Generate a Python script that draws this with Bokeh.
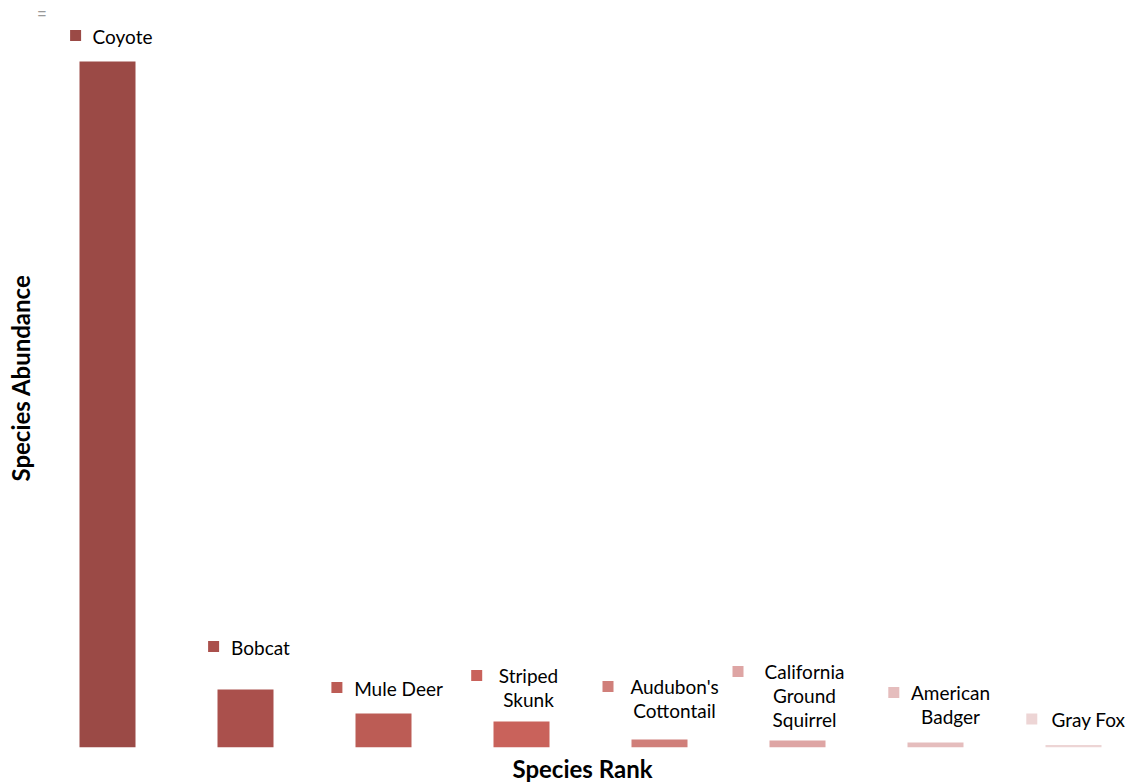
from bokeh.plotting import figure
from bokeh.models import ColumnDataSource, Range1d, FixedTicker, Label
from bokeh.embed import file_html
from bokeh.resources import INLINE
from bokeh.core.properties import value

# ---- data ----
species = ["Coyote", "Bobcat", "Mule Deer", "Striped Skunk", "Audubon's Cottontail",
           "California Ground Squirrel", "American Badger", "Gray Fox"]
label_lines = ["Coyote", "Bobcat", "Mule Deer", "Striped\nSkunk", "Audubon's\nCottontail",
               "California\nGround\nSquirrel", "American\nBadger", "Gray Fox"]
ranks = [1, 2, 3, 4, 5, 6, 7, 8]
abundance = [343, 29, 17, 13, 4, 3.5, 2.5, 1.2]
colors = ["#9b4a46", "#aa504c", "#bc5c55", "#c9625b", "#d07f7a", "#dea5a4", "#e5bdbd", "#edd5d5"]

# ---- layout (pixels) ----
LEFT = 36
FRAME_W, FRAME_H = 1128 - LEFT, 739
PX_PER_X = 138.0
X0 = 1 - (107 - LEFT) / PX_PER_X
Y1 = 369.5
PX_PER_Y = FRAME_H / Y1

p = figure(frame_width=FRAME_W, frame_height=FRAME_H, output_backend="svg", toolbar_location=None,
           x_range=Range1d(X0, X0 + FRAME_W / PX_PER_X), y_range=Range1d(0, Y1),
           min_border_left=LEFT, min_border_right=0, min_border_top=8, min_border_bottom=37)
p.outline_line_color = None
p.grid.visible = False
p.background_fill_color = "white"

for ax in (p.xaxis, p.yaxis):
    ax.ticker = FixedTicker(ticks=[])
    ax.axis_line_color = None
    ax.major_tick_line_color = None
    ax.minor_tick_line_color = None
    ax.major_label_text_font_size = "0px"
    ax.axis_label_text_font = "Lato"
    ax.axis_label_text_font_style = "bold"
    ax.axis_label_text_font_size = "24px"
    ax.axis_label_text_color = "#000000"
p.xaxis.axis_label = "Species Rank"
p.yaxis.axis_label = "Species Abundance"
p.xaxis.axis_label_standoff = 6
p.yaxis.axis_label_standoff = 2

src = ColumnDataSource(dict(x=ranks, top=abundance, color=colors, name=species, label=label_lines))
p.vbar(x="x", top="top", width=56 / PX_PER_X, bottom=0, fill_color="color", line_color=None, source=src)

# label squares and texts (per-label nudges in pixels)
lift = [0, 17, 0, -4, 3, -5, 0, 0]
shift = [0, 0, 0, -8, 0, -8, 0, 0]
sq_x, sq_y, tx_x, tx_y = [], [], [], []
for i, lab in enumerate(label_lines):
    lines = lab.split("\n")
    n = len(lines)
    w = max(len(s) for s in lines) * 9.8
    dx = 3.5 - (23 + w) / 2 + 5.5 + shift[i]
    dy = 26 + (n - 1) * 24 + lift[i]
    sq_x.append(ranks[i] + dx / PX_PER_X)
    sq_y.append(abundance[i] + dy / PX_PER_Y)
    tx_x.append(ranks[i] + shift[i] / PX_PER_X)
    tx_y.append(abundance[i] + lift[i] / PX_PER_Y)
lab_src = ColumnDataSource(dict(x=tx_x, y=tx_y, label=label_lines, sx=sq_x, sy=sq_y, color=colors))
p.scatter(x="sx", y="sy", marker="square", size=11, fill_color="color", line_color=None, source=lab_src)
p.text(x="x", y="y", text="label", source=lab_src, x_offset=15, y_offset=-14,
       text_align="center", text_baseline="bottom", text_font=value("Lato"),
       text_font_size="19px", text_line_height=1.05, text_color="#000000")

menu = Label(x=1 - (107 - 41.5) / PX_PER_X, y=(747 - 13) / PX_PER_Y, text="=", text_font_size="15px",
             text_color="#999999", text_align="center", text_baseline="middle")
p.add_layout(menu)

open("out.html", "w").write(file_html(p, INLINE))
